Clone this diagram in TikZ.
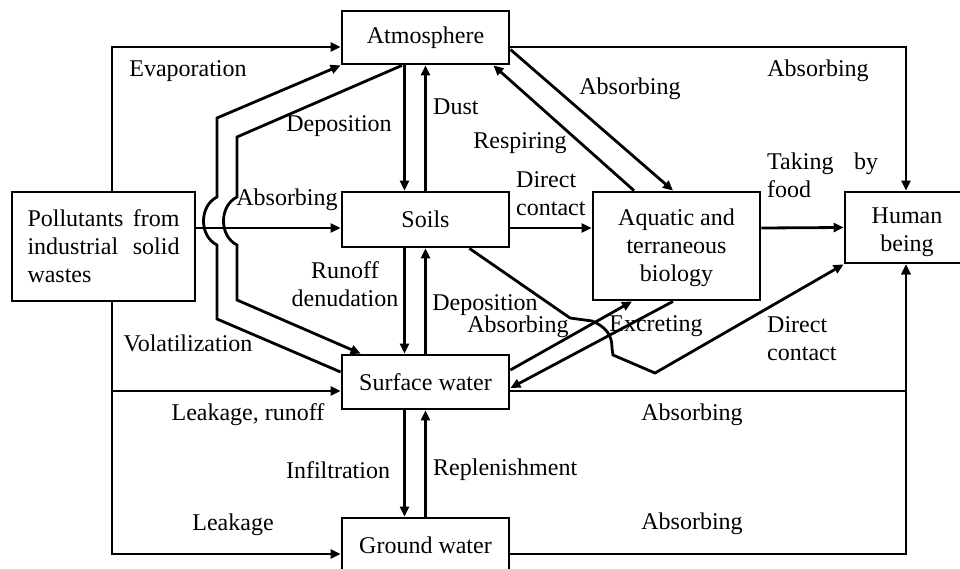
\documentclass[tikz,border=0pt]{standalone}
\usepackage{fontspec}
\setmainfont{Liberation Serif}
\usetikzlibrary{arrows.meta}
\begin{document}
\begin{tikzpicture}[x=1pt,y=-1pt,
  every node/.style={font=\fontsize{24}{28}\selectfont},
  box/.style={draw,line width=2.8pt,minimum width=167pt,inner sep=0pt,align=center},
  lbl/.style={inner sep=0pt,align=center},
  arr/.style={line width=2.8pt,-{Triangle[length=10pt,width=9pt]}}]
\useasboundingbox (0,0) rectangle (960,569);
\fill[white] (0,0) rectangle (960,569);
% boxes
\node[box,minimum width=183pt,minimum height=109pt] (pol) at (103.5,246.5)
  {\makebox[152pt][s]{Pollutants from}\\\makebox[152pt][s]{industrial solid}\\\makebox[152pt][l]{wastes}};
\node[box,minimum height=53pt] (atm) at (425.5,37.5) {Atmosphere};
\node[box,minimum height=55pt] (soil) at (425.5,219.5) {Soils};
\node[box,minimum height=108pt] (aqu) at (676.5,246) {\rule{0pt}{20pt}Aquatic and\\terraneous\\biology};
\node[box,minimum width=124pt,minimum height=71pt] (hum) at (907,227.5) {\rule{0pt}{26pt}Human\\being};
\node[box,minimum height=54pt] (surf) at (425.5,382) {Surface water};
\node[box,minimum height=54pt] (gw) at (425.5,545) {Ground water};
% pollutant outflows
\draw[arr] ([xshift=8.5pt]pol.north) |- ([yshift=-9.5pt]atm.west);
\draw[arr] ([xshift=8.5pt]pol.south) |- ([yshift=-9pt]surf.west);
\draw[arr] ([xshift=8.5pt]pol.south) |- ([yshift=-9pt]gw.west);
\draw[arr] ([yshift=18.5pt]pol.east) -- ([yshift=-8.5pt]soil.west);
% volatilization path (surface water -> atmosphere)
\draw[arr] ([yshift=10pt]surf.west) -- (217,319) -- (217,245)
  .. controls (199,236) and (199,206) .. (217,197) -- (217,118) -- (atm.south west);
% deposition path (atmosphere -> surface water)
\draw[arr] ([xshift=-23.5pt]atm.south) -- (237,137) -- (237,197)
  .. controls (219,206) and (219,236) .. (237,245) -- (237,300) -- ([xshift=20pt]surf.north west);
% vertical pairs
\draw[arr] ([xshift=-21pt]atm.south) -- ([xshift=-21pt]soil.north);
\draw[arr] (soil.north) -- (atm.south);
\draw[arr] ([xshift=-21pt]soil.south) -- ([xshift=-21pt]surf.north);
\draw[arr] (surf.north) -- (soil.south);
\draw[arr] ([xshift=-21pt]surf.south) -- ([xshift=-21pt]gw.north);
\draw[arr] (gw.north) -- (surf.south);
% to human being
\draw[arr] ([yshift=-9.5pt]atm.east) -| ([xshift=-1pt]hum.north);
\draw[arr] ([yshift=-9pt]surf.east) -| ([xshift=-1pt]hum.south);
\draw[arr] ([yshift=-9pt]gw.east) -| ([xshift=-1pt]hum.south);
\draw[arr] ([yshift=-8.5pt]soil.east) -- ([yshift=18pt]aqu.west);
\draw[arr] ([yshift=18pt]aqu.east) -- (hum.west);
% atmosphere <-> biology
\draw[arr] ([yshift=-12pt]atm.east) -- ([xshift=-3.5pt]aqu.north);
\draw[arr] ([xshift=-42.5pt]aqu.north) -- ([xshift=-17pt]atm.south east);
% surface water <-> biology
\draw[arr] ([yshift=12pt]surf.east) -- ([xshift=-44.5pt]aqu.south);
\draw[arr] ([xshift=-3.5pt]aqu.south) -- ([yshift=-6pt]surf.east);
% soils -> human being
\draw[arr] ([xshift=-41pt]soil.south east) -- (570,318) -- (592,321)
  .. controls (606,327) and (612,335) .. (612,348) -- (613,355) -- (655,373) -- (hum.south west);
% labels
\node[lbl] (l1) at (188,71) {Evaporation};
\node[lbl] (l2) at (818,71) {Absorbing};
\node[lbl] (l3) at (630,89) {Absorbing};
\node[lbl,anchor=west] (l4) at (433,107) {Dust};
\node[lbl] (l5) at (339,126) {Deposition};
\node[lbl] (l6) at (520,143) {Respiring};
\node[lbl,anchor=west,align=left] (l7) at (516,193.5) {Direct\\contact};
\node[lbl,anchor=west,align=left] (l8) at (767,175) {\makebox[111pt][s]{Taking by}\\food};
\node[lbl] (l9) at (287,200) {Absorbing};
\node[lbl] (l10) at (345,284) {Runoff\\denudation};
\node[lbl] (l11) at (485,305) {Deposition};
\node[lbl] (l12) at (518,327) {Absorbing};
\node[lbl] (l13) at (656,326) {Excreting};
\node[lbl,anchor=west,align=left] (l14) at (767,339) {Direct\\contact};
\node[lbl] (l15) at (188,343) {Volatilization};
\node[lbl] (l16) at (248,415) {Leakage, runoff};
\node[lbl] (l17) at (692,415) {Absorbing};
\node[lbl] (l18) at (338,470) {Infiltration};
\node[lbl,anchor=west] (l19) at (433,470) {Replenishment};
\node[lbl] (l20) at (233,525) {Leakage};
\node[lbl] (l21) at (692,524) {Absorbing};
\end{tikzpicture}
\end{document}
